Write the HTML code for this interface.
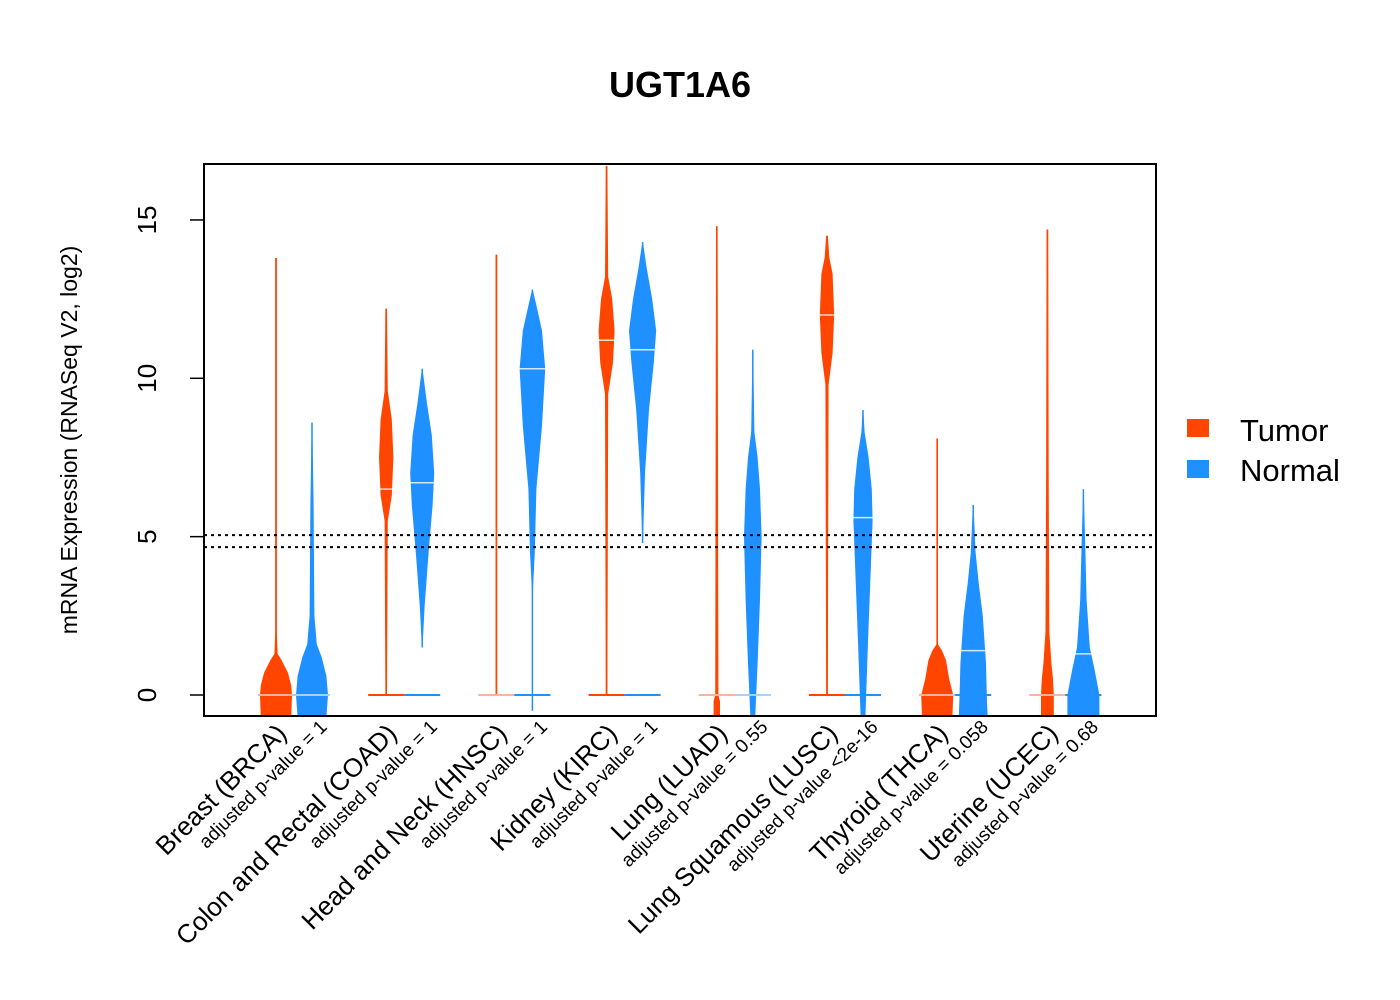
<!DOCTYPE html>
<html><head><meta charset="utf-8">
<style>
body{margin:0;background:#fff;}
svg{display:block;font-family:"Liberation Sans",Arial,sans-serif;}
</style></head>
<body>
<svg id="chart" width="1400" height="1000" viewBox="0 0 1400 1000">
<defs><clipPath id="pc"><rect x="204" y="164" width="952" height="552"/></clipPath></defs>
<text x="680" y="97" text-anchor="middle" font-size="36" font-weight="bold">UGT1A6</text>
<g id="plot" clip-path="url(#pc)"></g>
<rect x="204" y="164" width="952" height="552" fill="none" stroke="#000" stroke-width="2"/>
<g id="yaxis"></g>
<text transform="translate(77,440) rotate(-90)" text-anchor="middle" font-size="23">mRNA Expression (RNASeq V2, log2)</text>
<g id="xlabels"></g>
<g>
<g><rect x="1187" y="419" width="22" height="18" fill="#FF4500"/><text x="1240" y="441" font-size="31">Tumor</text></g>
<g><rect x="1187" y="460" width="22" height="18" fill="#1E90FF"/><text x="1240" y="481" font-size="31">Normal</text></g>
</g>
</svg>
<script>
const categories = ["Breast (BRCA)","Colon and Rectal (COAD)","Head and Neck (HNSC)","Kidney (KIRC)","Lung (LUAD)","Lung Squamous (LUSC)","Thyroid (THCA)","Uterine (UCEC)"];
const pvalues = ["adjusted p-value = 1","adjusted p-value = 1","adjusted p-value = 1","adjusted p-value = 1","adjusted p-value = 0.55","adjusted p-value <2e-16","adjusted p-value = 0.058","adjusted p-value = 0.68"];
const yTicks = [0,5,10,15];
const thresholds = [5.05,4.67];
const tumorRange = [[0,13.8],[0,12.2],[0,13.9],[0,16.7],[-0.7,14.8],[0,14.5],[-0.7,8.1],[-0.7,14.7]];
const tumorProfile = [
 [[-0.7,0.95],[0,1],[0.3,0.95],[0.7,0.75],[1.1,0.35],[1.3,0.1],[2,0.05],[13.8,0.05]],
 [[0,0.05],[5.5,0.1],[6.3,0.35],[7.5,0.45],[8.7,0.35],[9.6,0.1],[12.2,0.05]],
 [[0,0.05],[13.9,0.05]],
 [[0,0.05],[9.5,0.1],[10.5,0.4],[11.5,0.5],[12.5,0.35],[13.2,0.1],[16.7,0.05]],
 [[-0.7,0.2],[-0.2,0.2],[0,0.1],[14.8,0.05]],
 [[0,0.05],[9.8,0.1],[10.8,0.35],[12,0.45],[13.3,0.35],[13.8,0.15],[14.5,0.05]],
 [[-0.7,0.95],[0,1],[0.5,0.75],[1.1,0.55],[1.4,0.3],[1.6,0.05],[8.1,0.05]],
 [[-0.7,0.4],[0,0.4],[0.5,0.35],[1,0.25],[2,0.12],[7,0.08],[14.7,0.05]]];
const normalRange = [[-0.7,8.6],[1.5,10.3],[-0.5,12.8],[4.8,14.3],[-0.7,10.9],[-0.7,9],[-0.7,6],[-0.7,6.5]];
const normalProfile = [
 [[-0.7,0.9],[0,1],[0.6,0.9],[1.2,0.6],[1.6,0.3],[2.5,0.15],[6,0.1],[8.6,0.02]],
 [[1.5,0.02],[2.8,0.15],[4.5,0.4],[6,0.65],[7,0.75],[8.2,0.6],[9.2,0.3],[10.3,0.02]],
 [[3.2,0.02],[4.5,0.15],[6.5,0.25],[8.5,0.6],[10.3,0.8],[11.5,0.6],[12.3,0.25],[12.8,0.02]],
 [[4.8,0.02],[7,0.15],[9,0.4],[10.5,0.7],[11.5,0.85],[12.5,0.6],[13.5,0.25],[14.3,0.02]],
 [[-0.7,0.15],[1,0.3],[3,0.45],[5,0.55],[6.5,0.45],[7.5,0.3],[8.3,0.1],[10.9,0.02]],
 [[-0.7,0.15],[1.5,0.3],[3.5,0.45],[5.5,0.6],[6.5,0.55],[7.5,0.35],[8.3,0.1],[9,0.02]],
 [[-0.7,0.9],[0,0.85],[1,0.8],[2.5,0.6],[3.5,0.35],[4.5,0.15],[6,0.02]],
 [[-0.7,1],[0,1],[0.8,0.7],[1.5,0.4],[3,0.2],[5,0.1],[6.5,0.02]]];
const tumorMedian = [0,6.5,0,11.2,0,12,0,0];
const normalMedian = [0,6.7,10.3,10.9,0,5.6,1.4,1.3];

const NS="http://www.w3.org/2000/svg";
function yS(v){return 695-(v)*31.67;}
function xT(i){return 276+110.2*i;}
function xN(i){return 312+110.2*i;}
const MAXW=16;
function mk(tag,attrs,parent){const e=document.createElementNS(NS,tag);for(const k in attrs)e.setAttribute(k,attrs[k]);parent.appendChild(e);return e;}
const plot=document.getElementById('plot');

function bean(cx,range,prof,med,color,name){
  const g=mk('g',{},plot);
  
  
  const ln=mk('line',{x1:cx,x2:cx,y1:yS(range[0]),y2:yS(range[1]),stroke:color,'stroke-width':1.5},g);
  
  
  let right=prof.map(p=>(cx+p[1]*MAXW)+','+yS(p[0]));
  let left=prof.slice().reverse().map(p=>(cx-p[1]*MAXW)+','+yS(p[0]));
  const poly=mk('polygon',{points:right.concat(left).join(' '),fill:color},g);
  
  
  const z=mk('line',{x1:cx-18,x2:cx+18,y1:yS(0),y2:yS(0),stroke:color,'stroke-width':2},g);
  
  
  const m=mk('line',{x1:cx-18,x2:cx+18,y1:yS(med),y2:yS(med),stroke:'#fff','stroke-width':1.5,opacity:0.8},g);
  
  
}
for(let i=0;i<categories.length;i++){
  bean(xT(i),tumorRange[i],tumorProfile[i],tumorMedian[i],'#FF4500','tumor-bean-'+i);
  bean(xN(i),normalRange[i],normalProfile[i],normalMedian[i],'#1E90FF','normal-bean-'+i);
}
thresholds.forEach((t,k)=>{
  const l=mk('line',{x1:204,x2:1156,y1:yS(t),y2:yS(t),stroke:'#000','stroke-width':2,'stroke-dasharray':'3,4'},plot);
  
  
});
const ya=document.getElementById('yaxis');
yTicks.forEach(t=>{
  const l=mk('line',{x1:190,x2:204,y1:yS(t),y2:yS(t),stroke:'#000','stroke-width':1.5},ya);
  
  
  const tx=mk('text',{transform:`translate(156,${yS(t)}) rotate(-90)`,'text-anchor':'middle','font-size':26},ya);
  tx.textContent=t;
  
  
});
const xl=document.getElementById('xlabels');
categories.forEach((c,i)=>{
  const cx=(xT(i)+xN(i))/2;
  const t=mk('text',{transform:`translate(${cx-6},${735}) rotate(-45)`,'text-anchor':'end','font-size':26},xl);
  t.textContent=c;
  
  
  const s=mk('text',{transform:`translate(${cx+34},${728}) rotate(-45)`,'text-anchor':'end','font-size':19},xl);
  s.textContent=pvalues[i];
  
  
});
</script>
</body></html>
